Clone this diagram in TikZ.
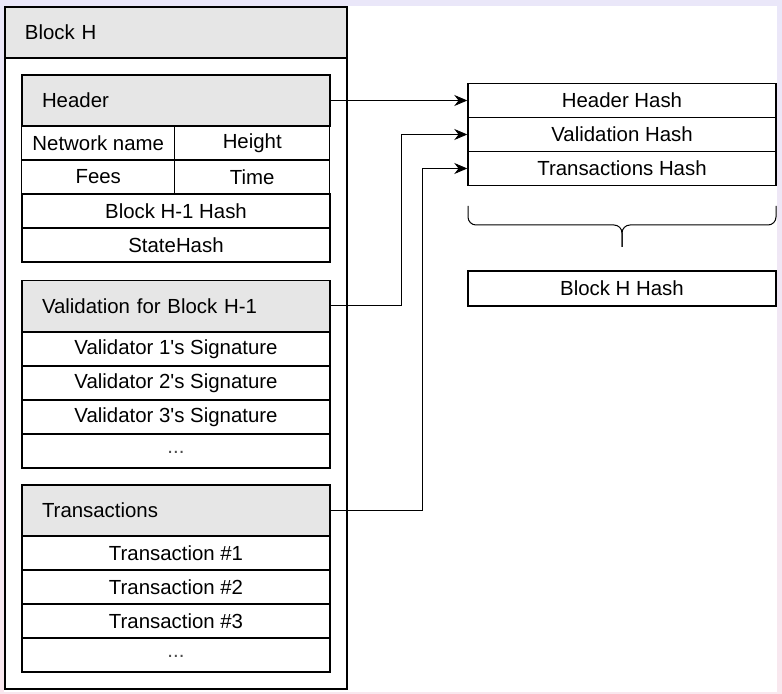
\documentclass[tikz,border=0pt]{standalone}
\usepackage{fontspec}
\setmainfont[Ligatures=TeXOff]{Liberation Sans}
\usepackage{tikz}
\usetikzlibrary{arrows.meta}
\definecolor{bandgray}{RGB}{230,230,230}
\definecolor{edgelav}{RGB}{234,231,249}
\definecolor{edgepink}{RGB}{249,231,238}
\tikzstyle{outerframe}=[draw,line width=0.9pt,inner sep=0pt]
\tikzstyle{band}=[draw,line width=0.8pt,fill=bandgray,minimum height=25.5pt,text width=134pt,inner xsep=10pt,inner ysep=0pt,align=left]
\tikzstyle{fieldbox}=[draw,line width=0.7pt,minimum height=17pt,inner sep=0pt]
\tikzstyle{fullfield}=[fieldbox,minimum width=154pt]
\tikzstyle{leftfield}=[fieldbox,minimum width=76.5pt]
\tikzstyle{rightfield}=[fieldbox,minimum width=77.5pt]
\tikzstyle{hashlink}=[-{Stealth[length=6.5pt,width=5.5pt]},line width=0.5pt]
\newcommand{\moredots}{\raisebox{-2.5pt}{\color{black!70}...}}

\begin{document}
\begin{tikzpicture}[x=0.5pt,y=-0.5pt,font=\fontsize{10.2}{12}\selectfont]
% background
\shade[top color=edgelav,bottom color=edgepink] (0,0) rectangle (782,694);
\fill[white] (4,6) rectangle (777,692);
% block H
\node[outerframe,minimum width=171pt,minimum height=341pt] (blockframe) at (176,348) {};
\node[band,text width=151pt,line width=0.9pt] (blockh) at (176,32.5) {Block H};
% header
\node[band] (header) at (176,100.5) {Header};
\node[leftfield] (network) at (98.25,143) {Network name};
\node[rightfield] (height) at (252.25,143) {Height};
\node[leftfield] (fees) at (98.25,177) {Fees};
\node[rightfield] (time) at (252.25,177) {Time};
\node[fullfield] (prevhash) at (176,211) {Block H-1 Hash};
\node[fullfield] (statehash) at (176,245) {StateHash};
% validation
\node[band] (validation) at (176,306) {Validation for Block H-1};
\node[fullfield] (sig1) at (176,349) {Validator 1's Signature};
\node[fullfield] (sig2) at (176,383) {Validator 2's Signature};
\node[fullfield] (sig3) at (176,417) {Validator 3's Signature};
\node[fullfield] (sigmore) at (176,451) {\moredots};
% transactions
\node[band] (transactions) at (176,510.5) {Transactions};
\node[fullfield] (tx1) at (176,553) {Transaction \#1};
\node[fullfield] (tx2) at (176,587) {Transaction \#2};
\node[fullfield] (tx3) at (176,621) {Transaction \#3};
\node[fullfield] (txmore) at (176,655) {\moredots};
% hashes
\node[fullfield] (headerhash) at (622,100.5) {Header Hash};
\node[fullfield] (valhash) at (622,134.5) {Validation Hash};
\node[fullfield] (txhash) at (622,168.5) {Transactions Hash};
\node[fullfield,minimum height=17.5pt] (blockhash) at (622,288.5) {Block H Hash};
% links
\draw[hashlink] (header.east) -- (headerhash.west);
\draw[hashlink] (validation.east) -- ++(71,0) |- (valhash.west);
\draw[hashlink] (transactions.east) -- ++(92,0) |- (txhash.west);
% brace
\coordinate (braceleft) at (468,206);
\coordinate (braceright) at (776,206);
\coordinate (bracemid) at (622,225);
\coordinate (bracetip) at (622,247);
\draw[line width=0.5pt,rounded corners=4pt] (braceleft) |- (bracemid) -- (bracetip);
\draw[line width=0.5pt,rounded corners=4pt] (braceright) |- (bracemid) -- (bracetip);
\end{tikzpicture}
\end{document}
